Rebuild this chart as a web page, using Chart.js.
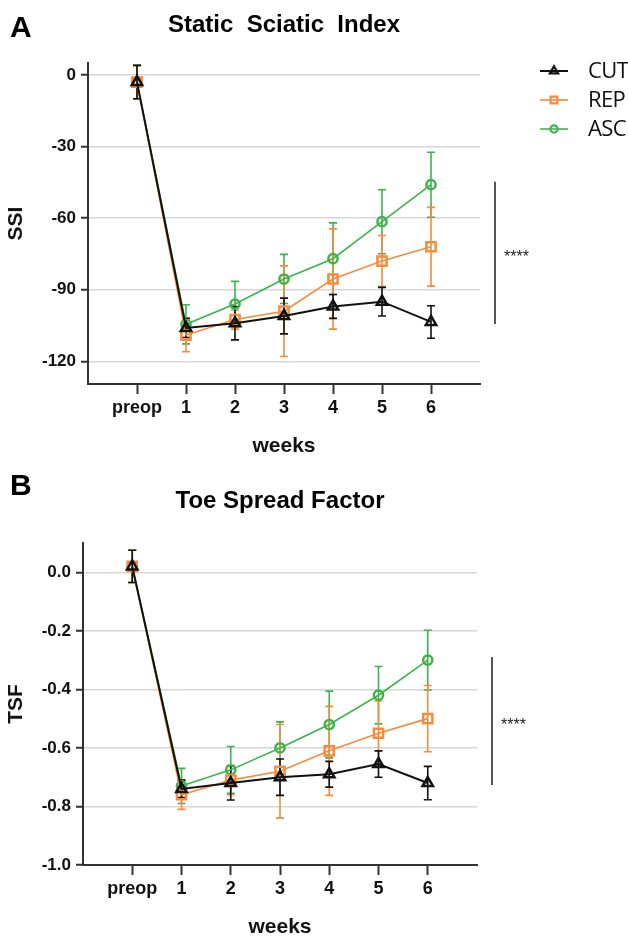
<!DOCTYPE html>
<html>
<head>
<meta charset="utf-8">
<script src="https://cdn.jsdelivr.net/npm/chart.js@4.4.1/dist/chart.umd.min.js"></script>
<style>
html, body { margin: 0; padding: 0; background: #fff; overflow: hidden; }
#wrapA { position: absolute; left: 0; top: 0; width: 628px; height: 460px; }
#wrapB { position: absolute; left: 0; top: 460px; width: 628px; height: 487px; }
</style>
</head>
<body>
<div id="wrapA"><canvas id="chartA" width="628" height="460"></canvas></div>
<div id="wrapB"><canvas id="chartB" width="628" height="487"></canvas></div>
<script>
// time points on the x axis
const weeks = ['preop', '1', '2', '3', '4', '5', '6'];
const groups = ['CUT', 'REP', 'ASC'];

// Static Sciatic Index (mean and error)
const ssiCut = [-3, -106, -104, -101, -97, -95, -103.5];
const ssiCutErr = [7, 4, 7, 7.5, 5, 6, 6.8];
const ssiRep = [-3, -109, -102.5, -99, -85.5, -78, -72];
const ssiRepErr = [7, 7, 4, 19, 21, 10.7, 16.5];
const ssiAsc = [-3, -104.5, -96, -85.5, -77, -61.5, -46];
const ssiAscErr = [7, 8.2, 9.5, 10.3, 15, 13.4, 13.6];
const ssiTicks = [0, -30, -60, -90, -120];

// Toe Spread Factor (mean and error)
const tsfCut = [0.02, -0.74, -0.72, -0.70, -0.69, -0.655, -0.72];
const tsfCutErr = [0.055, 0.03, 0.058, 0.062, 0.044, 0.045, 0.057];
const tsfRep = [0.02, -0.76, -0.71, -0.68, -0.61, -0.55, -0.5];
const tsfRepErr = [0.055, 0.05, 0.05, 0.16, 0.152, 0.11, 0.113];
const tsfAsc = [0.02, -0.73, -0.675, -0.6, -0.52, -0.42, -0.3];
const tsfAscErr = [0.055, 0.06, 0.08, 0.089, 0.114, 0.098, 0.102];
const tsfTicks = [0, -0.2, -0.4, -0.6, -0.8, -1.0];

const styles = {
    CUT: { color: '#111111', shape: 'triangle', r: 6, lw: 2 },
    REP: { color: '#f68b3c', shape: 'rect', r: 6.5, lw: 1.6 },
    ASC: { color: '#3cb44b', shape: 'circle', r: 4.6, lw: 1.6 }
};

Chart.defaults.font.family = '"Liberation Sans", Arial, sans-serif';
Chart.defaults.color = '#111';

function makeSet(label, values, errs) {
    const s = styles[label];
    return {
        label: label,
        data: values.map((v, i) => ({ x: i + 1, y: v })),
        errors: errs,
        borderColor: s.color,
        borderWidth: s.lw,
        pointStyle: s.shape,
        pointRadius: s.r,
        pointBorderWidth: 2.5,
        pointBorderColor: s.color,
        pointBackgroundColor: 'rgba(255,255,255,0)',
        tension: 0,
        clip: false
    };
}

// draws mean +/- error whiskers under the lines
const errorBars = {
    id: 'errorBars',
    beforeDatasetsDraw(chart) {
        const ctx = chart.ctx;
        const y = chart.scales.y;
        for (let d = chart.data.datasets.length - 1; d >= 0; d--) {
            const ds = chart.data.datasets[d];
            const meta = chart.getDatasetMeta(d);
            ctx.save();
            ctx.strokeStyle = ds.borderColor;
            ctx.lineWidth = 1.6;
            meta.data.forEach((pt, i) => {
                const v = ds.data[i].y, e = ds.errors[i];
                const top = y.getPixelForValue(v + e), bot = y.getPixelForValue(v - e);
                ctx.beginPath();
                ctx.moveTo(pt.x, top); ctx.lineTo(pt.x, bot);
                ctx.moveTo(pt.x - 4, top); ctx.lineTo(pt.x + 4, top);
                ctx.moveTo(pt.x - 4, bot); ctx.lineTo(pt.x + 4, bot);
                ctx.stroke();
            });
            ctx.restore();
        }
    }
};

function drawMarker(ctx, shape, x, y, r, color) {
    ctx.save();
    ctx.strokeStyle = color;
    ctx.lineWidth = 2.2;
    ctx.beginPath();
    if (shape === 'triangle') {
        ctx.moveTo(x, y - r);
        ctx.lineTo(x + r * 0.866, y + r * 0.5);
        ctx.lineTo(x - r * 0.866, y + r * 0.5);
        ctx.closePath();
    } else if (shape === 'rect') {
        const h = r * Math.SQRT1_2;
        ctx.rect(x - h, y - h, 2 * h, 2 * h);
    } else {
        ctx.arc(x, y, r, 0, Math.PI * 2);
    }
    ctx.stroke();
    ctx.restore();
}

// panel letter, title, significance bar, legend
const decor = {
    id: 'decor',
    afterDraw(chart, args, opts) {
        const ctx = chart.ctx;
        const a = chart.chartArea;
        ctx.save();
        ctx.fillStyle = '#000';
        ctx.textBaseline = 'alphabetic';
        ctx.textAlign = 'left';
        ctx.font = 'bold 30px "Liberation Sans", Arial, sans-serif';
        ctx.fillText(opts.letter, 10, opts.letterBase);
        ctx.textAlign = 'center';
        ctx.font = 'bold 24px "Liberation Sans", Arial, sans-serif';
        ctx.fillText(opts.title, (a.left + a.right) / 2, opts.titleBase);

        // significance bar between ASC and CUT at the last week
        const y = chart.scales.y;
        const ds = chart.data.datasets;
        const last = weeks.length - 1;
        const yTop = y.getPixelForValue(ds[2].data[last].y) - 3;
        const yBot = y.getPixelForValue(ds[0].data[last].y) + 2;
        const bx = a.right + opts.barGap;
        ctx.strokeStyle = '#555';
        ctx.lineWidth = 2;
        ctx.beginPath();
        ctx.moveTo(bx, yTop); ctx.lineTo(bx, yBot);
        ctx.stroke();
        ctx.textAlign = 'left';
        ctx.font = '16px "Liberation Sans", Arial, sans-serif';
        ctx.fillStyle = '#222';
        ctx.fillText('****', bx + 9, (yTop + yBot) / 2 + 9);

        if (opts.legend) {
            const rows = [71, 100, 129];
            groups.forEach((g, k) => {
                const s = styles[g];
                const yy = rows[k];
                ctx.strokeStyle = s.color;
                ctx.lineWidth = s.lw;
                ctx.beginPath();
                ctx.moveTo(540, yy); ctx.lineTo(568, yy);
                ctx.stroke();
                drawMarker(ctx, s.shape, 554, yy, g === 'ASC' ? 3.6 : 4.8, s.color);
                ctx.fillStyle = '#111';
                ctx.textBaseline = 'middle';
                ctx.font = '22px "Open Sans", "Noto Sans", sans-serif';
                ctx.letterSpacing = '-0.6px';
                ctx.fillText(g, 588, yy + 1);
                ctx.letterSpacing = '0px';
            });
        }
        ctx.restore();
    }
};

function buildChart(id, sets, yMin, yMax, yTicks, yLabel, fmt, lay) {
    return new Chart(document.getElementById(id), {
        type: 'line',
        data: { datasets: sets },
        plugins: [errorBars, decor],
        options: {
            responsive: false,
            maintainAspectRatio: false,
            animation: false,
            layout: { padding: { left: 0, top: lay.top, right: lay.right, bottom: 0 } },
            plugins: {
                legend: { display: false },
                tooltip: { enabled: false },
                decor: lay.decor
            },
            scales: {
                x: {
                    type: 'linear',
                    min: 0,
                    max: weeks.length + 1,
                    afterBuildTicks: s => { s.ticks = weeks.map((w, i) => ({ value: i + 1 })); },
                    afterFit: s => { s.height = lay.xHeight; },
                    ticks: {
                        callback: v => weeks[v - 1],
                        font: { size: 18, weight: 'bold' },
                        color: '#111',
                        padding: 3,
                        autoSkip: false,
                        maxRotation: 0
                    },
                    grid: { drawOnChartArea: false, drawTicks: true, tickLength: 10, tickColor: '#333', tickWidth: 2 },
                    border: { color: '#333', width: 2 },
                    title: {
                        display: true, text: 'weeks', color: '#111',
                        font: { size: 21, weight: 'bold' },
                        padding: { top: 0, bottom: lay.weeksPad }
                    }
                },
                y: {
                    min: yMin,
                    max: yMax,
                    afterBuildTicks: s => { s.ticks = yTicks.map(v => ({ value: v })); },
                    afterFit: s => { s.width = lay.yWidth; },
                    ticks: {
                        callback: fmt,
                        font: { size: 17, weight: 'bold' },
                        color: '#111',
                        padding: 5
                    },
                    grid: { color: '#d6d6d6', lineWidth: 1.5, tickColor: '#333', tickWidth: 2, tickLength: 7 },
                    border: { color: '#333', width: 2 },
                    title: {
                        display: true, text: yLabel, color: '#111',
                        font: { size: 21, weight: 'bold' },
                        padding: { top: 4, bottom: 0 }
                    }
                }
            }
        }
    });
}

buildChart('chartA',
    [makeSet('CUT', ssiCut, ssiCutErr), makeSet('REP', ssiRep, ssiRepErr), makeSet('ASC', ssiAsc, ssiAscErr)],
    -129.5, 5, ssiTicks, 'SSI', v => String(v),
    { top: 63, right: 148, xHeight: 76, yWidth: 88, weeksPad: 1,
      decor: { letter: 'A', letterBase: 37, title: 'Static  Sciatic  Index', titleBase: 32, barGap: 15, legend: true } });

buildChart('chartB',
    [makeSet('CUT', tsfCut, tsfCutErr), makeSet('REP', tsfRep, tsfRepErr), makeSet('ASC', tsfAsc, tsfAscErr)],
    -1.0, 0.1, tsfTicks, 'TSF', v => v.toFixed(1),
    { top: 83, right: 151, xHeight: 82, yWidth: 83, weeksPad: 7,
      decor: { letter: 'B', letterBase: 35, title: 'Toe Spread Factor', titleBase: 48, barGap: 15, legend: false } });
</script>
</body>
</html>
